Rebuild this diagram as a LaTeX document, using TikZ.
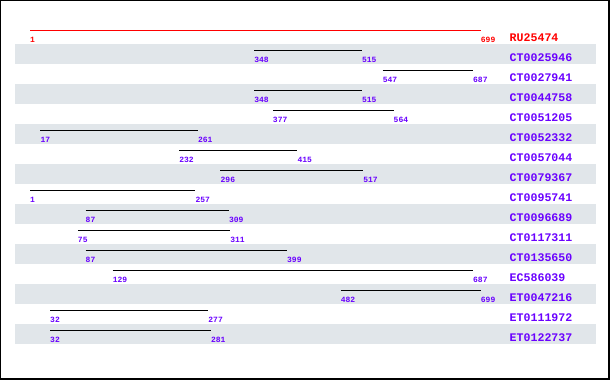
\documentclass[tikz,border=0pt]{standalone}
\usepackage{fontspec}
\newfontfamily\monofont{Liberation Mono}
\definecolor{bandgray}{RGB}{225,230,234}
\definecolor{hitpurple}{RGB}{106,0,255}
\definecolor{queryred}{RGB}{255,0,0}
\begin{document}
\begin{tikzpicture}[x=1pt,y=-1pt,
  namelabel/.style={anchor=base west,inner sep=0pt,font=\monofont\fontsize{11.6}{12}\selectfont\bfseries},
  numlabel/.style={anchor=base west,inner sep=0pt,font=\monofont\fontsize{8}{9}\selectfont\bfseries},
  hitline/.style={line width=1pt}]
\useasboundingbox (0,0) rectangle (610,380);
\fill[white] (0,0) rectangle (610,380);
% bands
\foreach \r in {1,3,...,15}{
  \fill[bandgray] (15,{24+20*\r}) rectangle (596,{44+20*\r});
}
\foreach \r/\name/\s/\e in {
  0/RU25474/1/699,
  1/CT0025946/348/515,
  2/CT0027941/547/687,
  3/CT0044758/348/515,
  4/CT0051205/377/564,
  5/CT0052332/17/261,
  6/CT0057044/232/415,
  7/CT0079367/296/517,
  8/CT0095741/1/257,
  9/CT0096689/87/309,
  10/CT0117311/75/311,
  11/CT0135650/87/399,
  12/EC586039/129/687,
  13/ET0047216/482/699,
  14/ET0111972/32/277,
  15/ET0122737/32/281}{
  \ifnum\r=0 \def\col{queryred}\else\def\col{hitpurple}\fi
  \pgfmathsetmacro{\xs}{30+(\s-1)*0.6457}
  \pgfmathsetmacro{\xe}{30+(\e-1)*0.6457}
  \pgfmathsetmacro{\yy}{30+20*\r}
  \coordinate (s\r) at (\xs,\yy);
  \coordinate (e\r) at (\xe,\yy);
  \ifnum\r=0
    \draw[hitline,queryred] (s\r) -- (e\r);
  \else
    \draw[hitline,black] (s\r) -- (e\r);
  \fi
  \node[numlabel,text=\col] (ls\r) at ([yshift=-12pt]s\r) {\s};
  \node[numlabel,text=\col] (le\r) at ([yshift=-12pt]e\r) {\e};
  \node[namelabel,text=\col] (n\r) at (509.5,{\yy+11.7}) {\name};
}
\draw[black,line width=1.2pt] (0.6,0.6) rectangle (609,379);
\end{tikzpicture}
\end{document}
